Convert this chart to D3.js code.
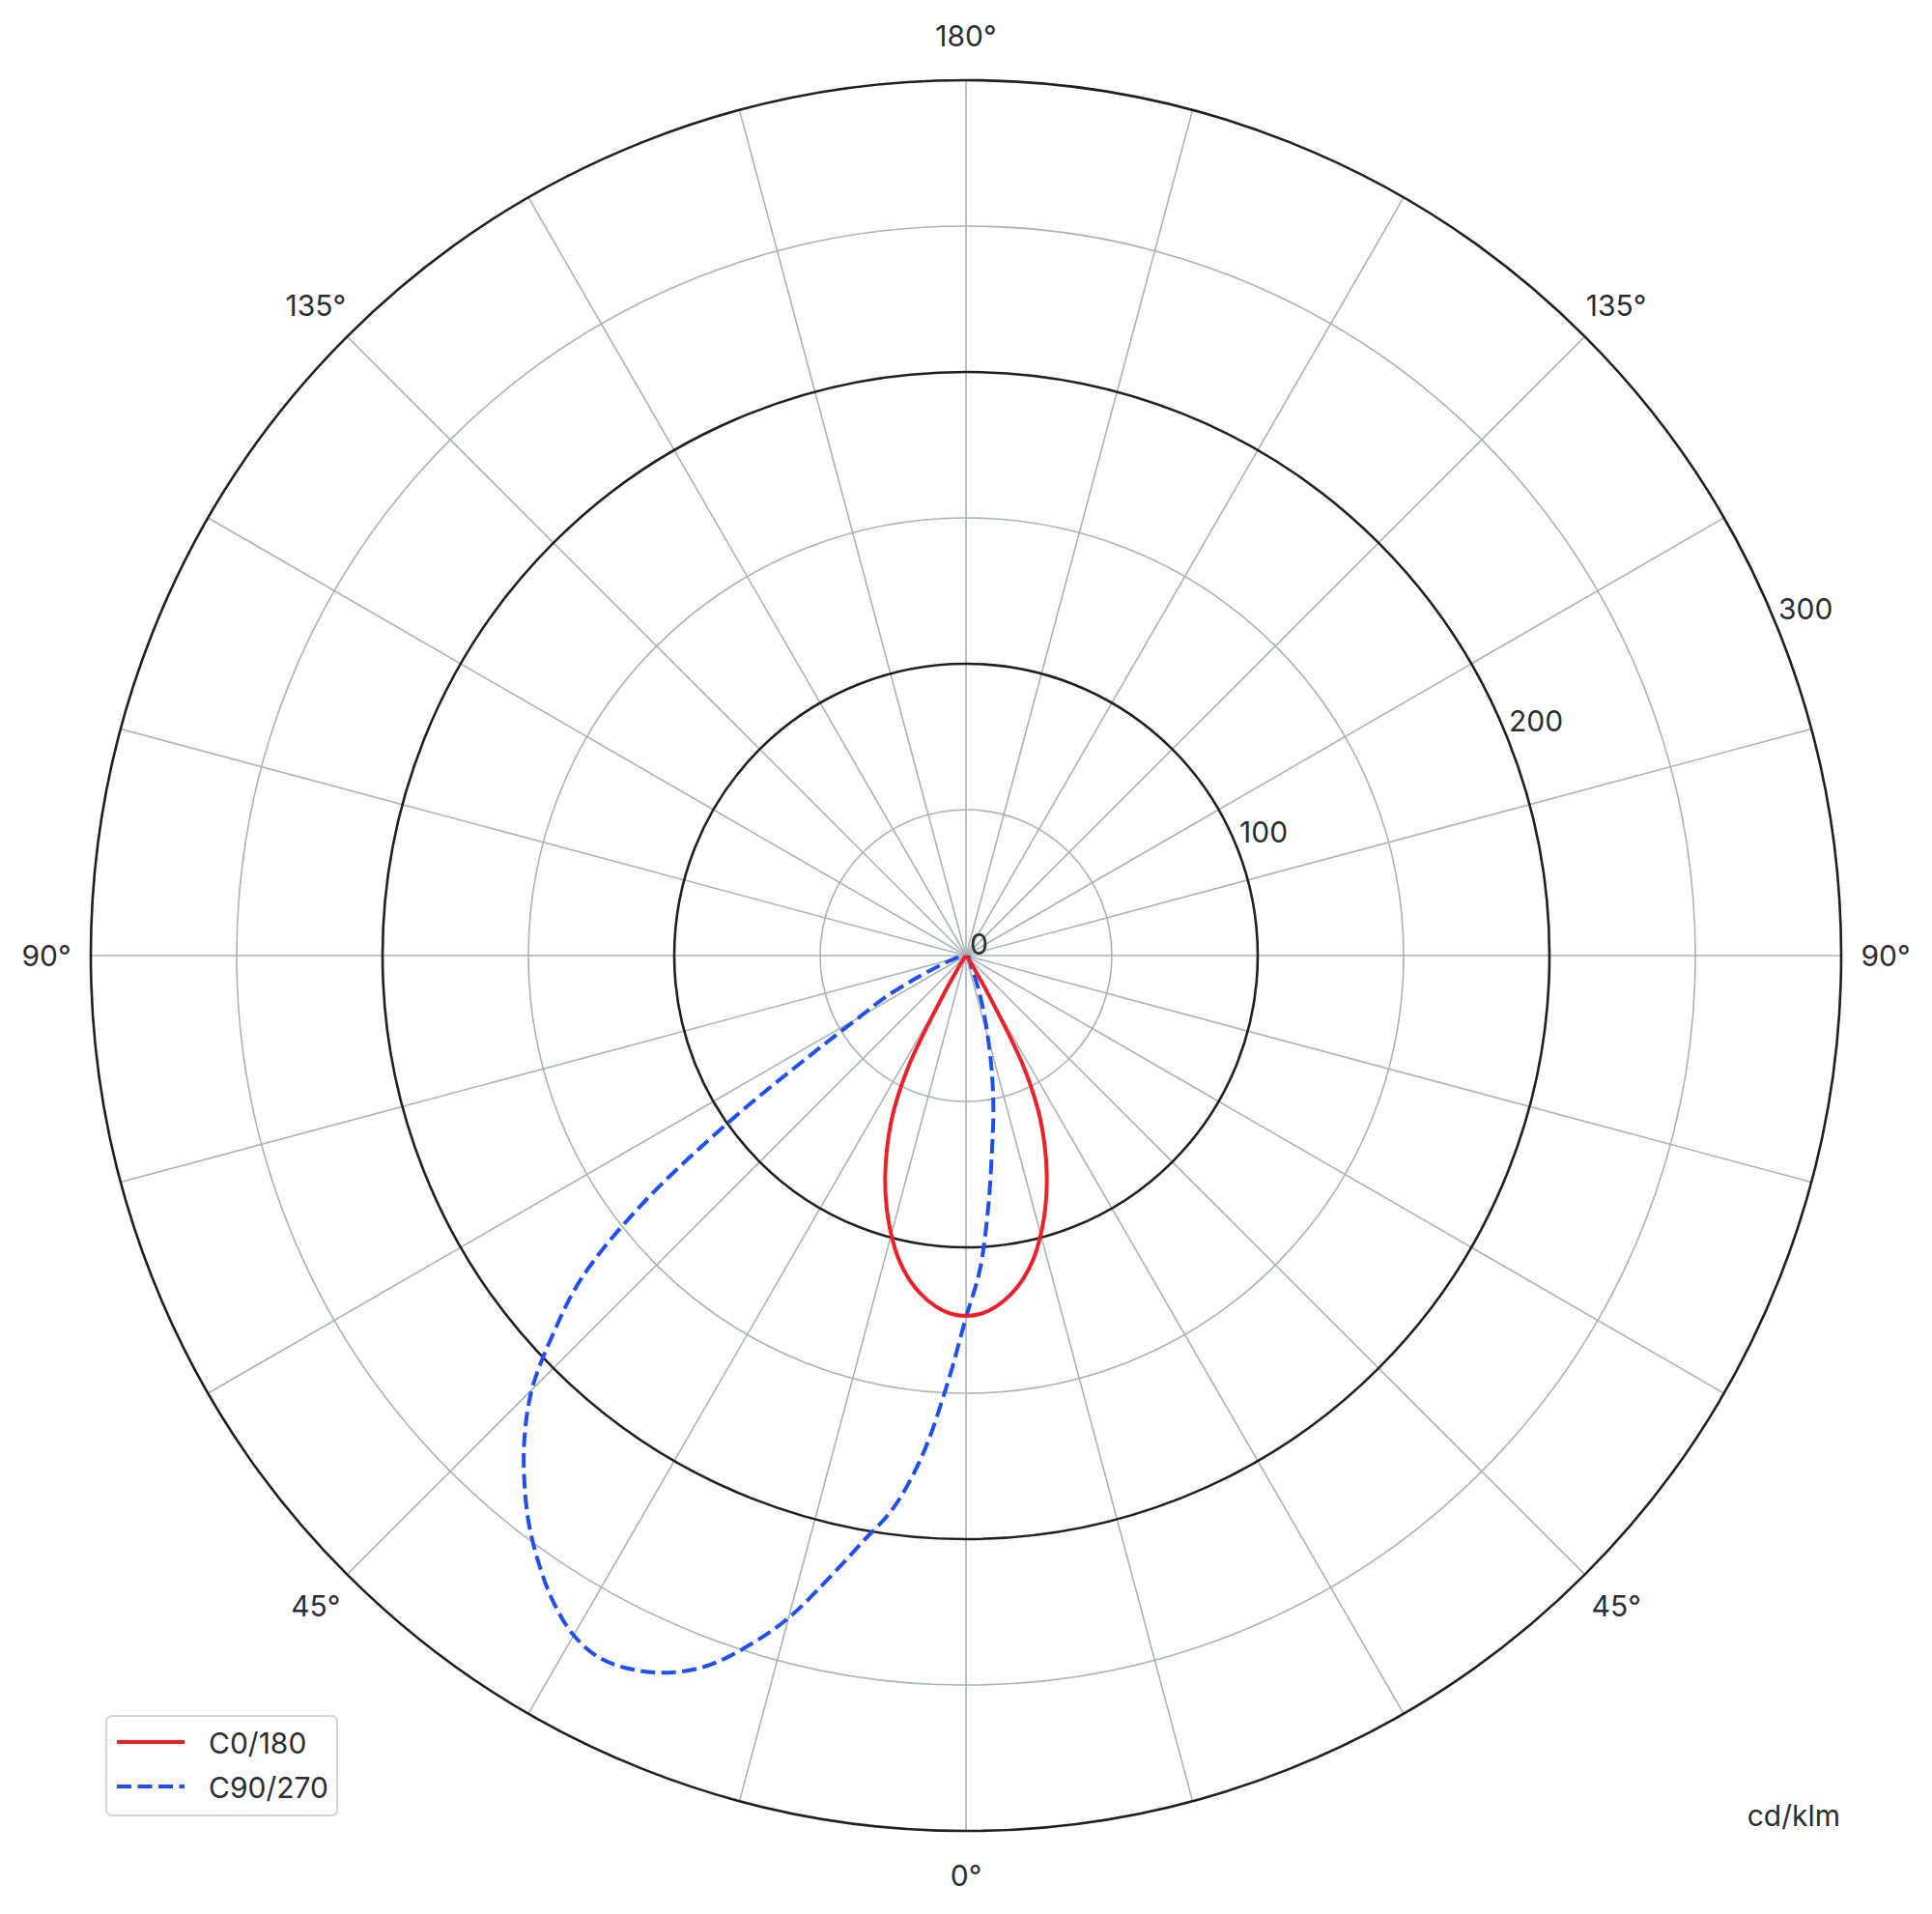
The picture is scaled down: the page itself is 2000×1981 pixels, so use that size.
<!DOCTYPE html>
<html>
<head>
<meta charset="utf-8">
<script src="https://cdn.jsdelivr.net/npm/d3@7"></script>
<style>
  html, body { margin: 0; padding: 0; background: #ffffff; }
  svg { display: block; }
  text { font-family: Inter, "Noto Sans", "DejaVu Sans", sans-serif; fill: #292e31; }
</style>
</head>
<body>
<svg id="chart" width="2000" height="1981"></svg>
<script>
// ---- data (cd/klm) ----
const gammaAngles = [0,2.5,5,7.5,10,12.5,15,17.5,20,22.5,25,27.5,30,32.5,35,37.5,40,42.5,45,47.5,50,52.5,55,57.5,60,62.5,65,67.5,70,72.5,75,77.5,80,82.5,85,87.5,90];
const c0Values   = [123.5,122.8,120.6,117.2,112.6,106.6,99,90.5,81,70.5,58.5,42,15,4.5,1.5,0.5,0,0,0,0,0,0,0,0,0,0,0,0,0,0,0,0,0,0,0,0,0];
const c180Values = [123.5,122.8,120.6,117.2,112.6,106.6,99,90.5,81,70.5,58.5,42,15,4.5,1.5,0.5,0,0,0,0,0,0,0,0,0,0,0,0,0,0,0,0,0,0,0,0,0];
const c90Values  = [124,147,172,191,204,219,235,248,259,266,270,271.5,269,263,255,246,235.5,224,210.5,192,172,140,98,62,42,32,21,13,8,6,4,3,2.5,2,1.5,1,1];
const c270Values = [124,108,87,68,54,41,29,20,13,8,5,3.5,3,2.5,2,1.5,1,1,1,1,1,1,1,1,1,1,1,1,1,1,1,1,1,1,1,1,1];
const seriesNames = ["C0/180", "C90/270"];
const radialTicks = [0, 100, 200, 300];
const minorRings = [50, 150, 250];
const angleLabels = [
  {deg: 0, text: "0°"}, {deg: 45, text: "45°"}, {deg: 90, text: "90°"}, {deg: 135, text: "135°"},
  {deg: 180, text: "180°"}, {deg: 225, text: "135°"}, {deg: 270, text: "90°"}, {deg: 315, text: "45°"}
];
const unitLabel = "cd/klm";

// ---- layout ----
const cx = 1000, cy = 989, R = 906;
const svg = d3.select("#chart");
const r = d3.scaleLinear().domain([0, 300]).range([0, R]);
const g = svg.append("g").attr("transform", `translate(${cx},${cy})`);
const GRID = "#a9b4b4", DARK = "#1d2124";

// minor rings
g.selectAll("circle.minor").data(minorRings).join("circle")
  .attr("r", d => r(d)).attr("fill", "none").attr("stroke", GRID).attr("stroke-width", 1.6);

// spokes every 15 deg
const spokes = d3.range(0, 360, 15);
g.selectAll("line.spoke").data(spokes).join("line")
  .attr("x1", 0).attr("y1", 0)
  .attr("x2", d => R * Math.sin(d * Math.PI / 180))
  .attr("y2", d => -R * Math.cos(d * Math.PI / 180))
  .attr("stroke", GRID).attr("stroke-width", 1.6);

// major rings
g.selectAll("circle.major").data(radialTicks.filter(d => d > 0)).join("circle")
  .attr("r", d => r(d)).attr("fill", "none").attr("stroke", DARK).attr("stroke-width", 2.6);

// radial tick labels at 22.5 deg above horizontal (right side)
const la = 22.5 * Math.PI / 180;
g.selectAll("text.rt").data(radialTicks).join("text")
  .attr("x", d => r(d) * Math.cos(la) + 4)
  .attr("y", d => -r(d) * Math.sin(la) - 1)
  .attr("font-size", 30)
  .text(d => d);

// angle labels
const LR = 952;
g.selectAll("text.al").data(angleLabels).join("text")
  .attr("x", d => LR * Math.sin(d.deg * Math.PI / 180))
  .attr("y", d => LR * Math.cos(d.deg * Math.PI / 180))
  .attr("text-anchor", "middle").attr("dominant-baseline", "central")
  .attr("font-size", 30)
  .text(d => d.text);

// ---- curves ----
function buildPath(rightVals, leftVals) {
  const pts = [];
  for (let i = gammaAngles.length - 1; i >= 0; i--) pts.push({a: Math.PI - gammaAngles[i] * Math.PI / 180, v: rightVals[i]});
  for (let i = 1; i < gammaAngles.length; i++) pts.push({a: Math.PI + gammaAngles[i] * Math.PI / 180, v: leftVals[i]});
  return pts;
}
const line = d3.lineRadial().angle(d => d.a).radius(d => r(d.v)).curve(d3.curveCatmullRom.alpha(0.5));

const RED = "#ee1f27", BLUE = "#1f4ff2";
g.append("path").datum(buildPath(c270Values, c90Values))
  .attr("d", line).attr("fill", "none").attr("stroke", BLUE).attr("stroke-width", 4)
  .attr("stroke-dasharray", "15,6.5");
g.append("path").datum(buildPath(c0Values, c180Values))
  .attr("d", line).attr("fill", "none").attr("stroke", RED).attr("stroke-width", 4);

// ---- legend ----
const lg = svg.append("g");
lg.append("rect").attr("x", 110).attr("y", 1776).attr("width", 239).attr("height", 103)
  .attr("rx", 6).attr("fill", "#ffffff").attr("stroke", "#cfd7d7").attr("stroke-width", 2);
const legendItems = [
  {name: seriesNames[0], color: RED, dash: null, y: 1803},
  {name: seriesNames[1], color: BLUE, dash: "15,6.5", y: 1849}
];
legendItems.forEach(it => {
  lg.append("line").attr("x1", 121).attr("x2", 191).attr("y1", it.y).attr("y2", it.y)
    .attr("stroke", it.color).attr("stroke-width", 4).attr("stroke-dasharray", it.dash);
  lg.append("text").attr("x", 216).attr("y", it.y + 12).attr("font-size", 30).text(it.name);
});

// unit label
svg.append("text").attr("x", 1905).attr("y", 1890).attr("text-anchor", "end")
  .attr("font-size", 30).text(unitLabel);
</script>
</body>
</html>
